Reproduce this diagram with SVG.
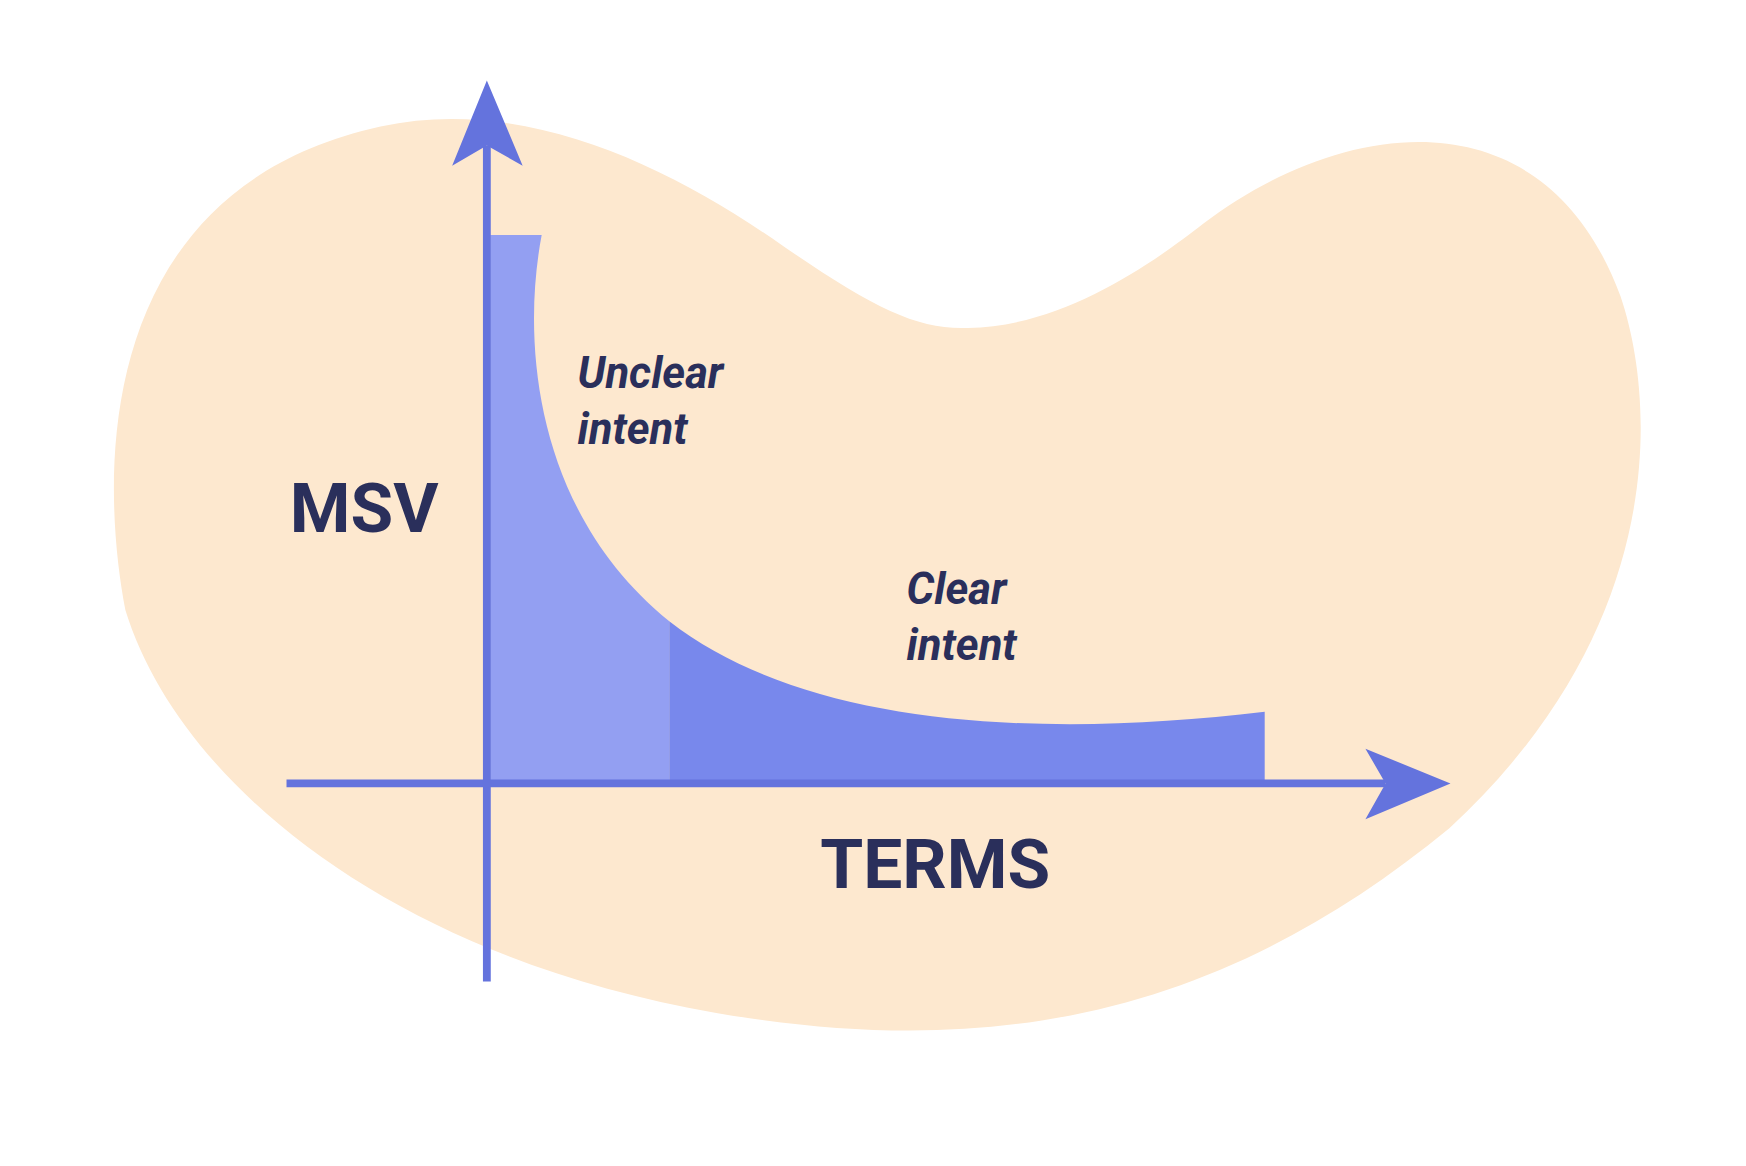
<svg xmlns="http://www.w3.org/2000/svg" width="1746" height="1166" viewBox="0 0 1746 1166">
<style>
.ax{stroke:#6473dd;stroke-width:7;fill:none}
.hd{fill:#6473dd}
.big{font-family:Roboto,"Liberation Sans",sans-serif;font-weight:bold;font-size:62px;fill:#2a2f5b}
.lab{font-family:Roboto,"Liberation Sans",sans-serif;font-weight:bold;font-style:italic;font-size:39px;fill:#2a2f5b}
</style>
<rect width="1746" height="1166" fill="#fff"/>
<g transform="scale(1.1192)">
<g id="blob"><path fill="#fde8cf" d="M340,113 C470,85 600,150 700,220 C780,275 820,295 865,293 C950,292 1030,235 1075,200 C1200,105 1380,80 1448,265 C1480,360 1490,560 1295,740 C1100,900 900,950 640,905 C350,855 160,700 112,545 C90,430 80,170 340,113 Z"/></g>
<g id="unclear-area"><path fill="#939ff2" d="M438,210 L484,210 C465,310 480,460 598,555 L598,698 L438,698 Z"/></g>
<g id="clear-area"><path fill="#7888ec" d="M598,555 C720,650 930,660 1130,636 L1130,698 L598,698 Z"/></g>
<g id="connectors">
<line class="ax" x1="435" y1="877" x2="435" y2="130"/>
<path class="hd" d="M435,72 L467,148 L435,130 L404,148 Z"/>
<line class="ax" x1="256" y1="700" x2="1238" y2="700"/>
<path class="hd" d="M1296,700 L1220,732 L1238,700 L1220,669 Z"/>
</g>
<g id="msv"><text class="big" x="259" y="475">MSV</text></g>
<g id="terms"><text class="big" x="733" y="793">TERMS</text></g>
<g id="unclear"><text class="lab" x="516" y="347">Unclear</text><text class="lab" x="516" y="397">intent</text></g>
<g id="clear"><text class="lab" x="810" y="540">Clear</text><text class="lab" x="810" y="590">intent</text></g>
</g>
</svg>
